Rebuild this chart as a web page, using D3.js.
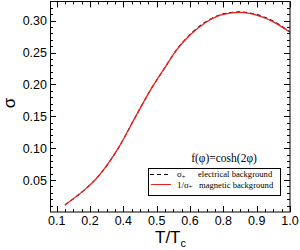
<!DOCTYPE html>
<html><head><meta charset="utf-8">
<script src="https://cdn.jsdelivr.net/npm/d3@7"></script>
<style>html,body{margin:0;padding:0;background:#fff;}svg{display:block;}</style>
</head><body>
<svg id="c" width="300" height="250"></svg>
<script>
// Data (T/Tc and sigma)
const tValues = [0.156, 0.25, 0.275, 0.325, 0.356, 0.419, 0.475, 0.525, 0.575, 0.625, 0.688, 0.75, 0.8125, 0.875, 0.9375, 1.0];
const sigmaElectrical = [0.011, 0.0425, 0.053, 0.080, 0.100, 0.148, 0.190, 0.2226, 0.2545, 0.2782, 0.2992, 0.3107, 0.3137, 0.3095, 0.2990, 0.2824];
const sigmaMagnetic   = [0.011, 0.0425, 0.053, 0.080, 0.100, 0.148, 0.190, 0.2226, 0.2540, 0.2774, 0.2983, 0.3098, 0.3128, 0.3086, 0.2981, 0.2817];
const xTickValues = [0.125, 0.25, 0.375, 0.5, 0.625, 0.75, 0.875, 1.0];
const xTickLabels = ["0.1", "0.2", "0.4", "0.5", "0.6", "0.8", "0.9", "1.0"];
const yTickValues = [0.05, 0.10, 0.15, 0.20, 0.25, 0.30];
const yTickLabels = ["0.05", "0.10", "0.15", "0.20", "0.25", "0.30"];

const svg = d3.select("#c");
const L = 50, R = 290, T = 1.5, B = 212;
const x = d3.scaleLinear().domain([0.1, 1.0]).range([L, R]);
const y = d3.scaleLinear().domain([0, 0.33]).range([B, T]);

const font = "'Liberation Sans', Arial, sans-serif";
const serif = "'Liberation Serif', 'Times New Roman', serif";

// minor ticks
const xMinor = d3.range(0, 36).map(i => 0.125 + i * 0.03125).filter(v => v > 0.1 && v < 1.0 && Math.abs(v / 0.125 - Math.round(v / 0.125)) > 1e-6);
const yMinor = d3.range(1, 33).map(i => i * 0.01).filter(v => Math.abs(v / 0.05 - Math.round(v / 0.05)) > 1e-6);

const g = svg.append("g").attr("stroke", "#000").attr("stroke-width", 1);
xTickValues.forEach(v => {
  const px = Math.round(x(v)) + 0.5;
  g.append("line").attr("x1", px).attr("x2", px).attr("y1", B).attr("y2", B - 6);
  g.append("line").attr("x1", px).attr("x2", px).attr("y1", T).attr("y2", T + 6);
});
xMinor.forEach(v => {
  const px = Math.round(x(v)) + 0.5;
  g.append("line").attr("x1", px).attr("x2", px).attr("y1", B).attr("y2", B - 3);
  g.append("line").attr("x1", px).attr("x2", px).attr("y1", T).attr("y2", T + 3);
});
yTickValues.forEach(v => {
  const py = Math.round(y(v)) + 0.5;
  g.append("line").attr("x1", L).attr("x2", L + 6).attr("y1", py).attr("y2", py);
  g.append("line").attr("x1", R).attr("x2", R - 6).attr("y1", py).attr("y2", py);
});
yMinor.forEach(v => {
  const py = Math.round(y(v)) + 0.5;
  g.append("line").attr("x1", L).attr("x2", L + 3).attr("y1", py).attr("y2", py);
  g.append("line").attr("x1", R).attr("x2", R - 3).attr("y1", py).attr("y2", py);
});

// tick labels
xTickValues.forEach((v, i) => {
  svg.append("text").attr("x", x(v)).attr("y", B + 13).attr("text-anchor", "middle")
    .attr("font-family", font).attr("font-size", 12.5).text(xTickLabels[i]);
});
yTickValues.forEach((v, i) => {
  svg.append("text").attr("x", L - 3).attr("y", y(v) + 4.5).attr("text-anchor", "end")
    .attr("font-family", font).attr("font-size", 12.5).text(yTickLabels[i]);
});

// curves
const line = d3.line().curve(d3.curveMonotoneX);
const ptsE = tValues.map((t, i) => [x(t), y(sigmaElectrical[i])]);
const ptsM = tValues.map((t, i) => [x(t), y(sigmaMagnetic[i])]);
svg.append("path").attr("d", line(ptsE)).attr("fill", "none").attr("stroke", "#000")
  .attr("stroke-width", 1.1).attr("stroke-dasharray", "4,3");
svg.append("path").attr("d", line(ptsM)).attr("fill", "none").attr("stroke", "#f02020")
  .attr("stroke-width", 1.3);

// frame
svg.append("rect").attr("x", L + 0.5).attr("y", T).attr("width", R - L - 0.5).attr("height", B - T)
  .attr("fill", "none").attr("stroke", "#000").attr("stroke-width", 1);

// axis labels
svg.append("text").attr("transform", "translate(15,103) rotate(-90)").attr("text-anchor", "middle")
  .attr("font-family", font).attr("font-size", 17).text("σ");
const xl = svg.append("text").attr("x", 155).attr("y", 243).attr("font-family", font).attr("font-size", 17);
xl.append("tspan").text("T/T");
xl.append("tspan").attr("font-size", 11).attr("dy", 3.5).text("c");

// legend
svg.append("text").attr("x", 224).attr("y", 162).attr("text-anchor", "middle")
  .attr("font-family", serif).attr("font-size", 11.5).text("f(φ)=cosh(2φ)");
svg.append("rect").attr("x", 148.5).attr("y", 168.5).attr("width", 132).attr("height", 27)
  .attr("fill", "#fff").attr("stroke", "#000").attr("stroke-width", 1);
svg.append("line").attr("x1", 150).attr("x2", 171).attr("y1", 174.5).attr("y2", 174.5)
  .attr("stroke", "#000").attr("stroke-width", 1.2).attr("stroke-dasharray", "4,3");
svg.append("line").attr("x1", 151).attr("x2", 171).attr("y1", 184.5).attr("y2", 184.5)
  .attr("stroke", "#f02020").attr("stroke-width", 1);
const l1 = svg.append("text").attr("x", 177).attr("y", 177).attr("font-family", serif).attr("font-size", 9);
l1.append("tspan").text("σ");
l1.append("tspan").attr("font-size", 6.5).attr("dy", 1.5).text("+");
svg.append("text").attr("x", 198).attr("y", 177).attr("font-family", serif).attr("font-size", 8.6).text("electrical background");
const l2 = svg.append("text").attr("x", 177).attr("y", 187.5).attr("font-family", serif).attr("font-size", 9);
l2.append("tspan").text("1/σ");
l2.append("tspan").attr("font-size", 6.5).attr("dy", 1.5).text("+");
svg.append("text").attr("x", 199).attr("y", 187.5).attr("font-family", serif).attr("font-size", 8.6).text("magnetic background");
</script>
</body></html>
